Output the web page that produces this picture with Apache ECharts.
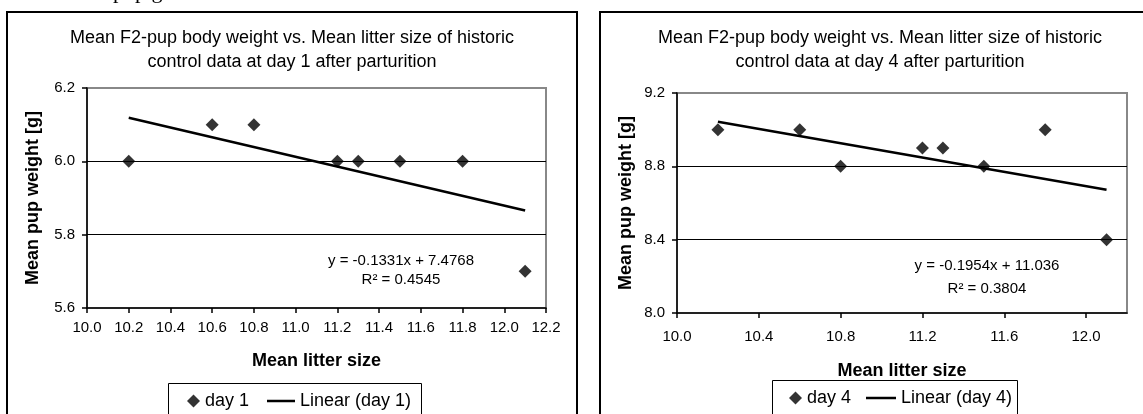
<!DOCTYPE html>
<html>
<head>
<meta charset="utf-8">
<script src="https://cdn.jsdelivr.net/npm/echarts@6/dist/echarts.min.js"></script>
<style>
  body { margin: 0; background: #fff; }
  #main { width: 1143px; height: 414px; }
</style>
</head>
<body>
<div id="main"></div>
<script>
// values
var litterSize = [10.2, 10.6, 10.8, 11.2, 11.3, 11.5, 11.8, 12.1];
var pupWeightDay1 = [6.0, 6.1, 6.1, 6.0, 6.0, 6.0, 6.0, 5.7];
var pupWeightDay4 = [9.0, 9.0, 8.8, 8.9, 8.9, 8.8, 9.0, 8.4];

// trendline end points (x from first to last litter size)
var trendX = [10.2, 12.1];
var trendDay1 = [6.119, 5.866];
var trendDay4 = [9.043, 8.672];

var xTicksDay4 = [10.0, 10.4, 10.8, 11.2, 11.6, 12.0];

var titleDay1 = 'Mean F2-pup body weight vs. Mean litter size of historic\ncontrol data at day 1 after parturition';
var titleDay4 = 'Mean F2-pup body weight vs. Mean litter size of historic\ncontrol data at day 4 after parturition';
var eqDay1 = 'y = -0.1331x + 7.4768\nR² = 0.4545';
var eqDay4 = 'y = -0.1954x + 11.036\nR² = 0.3804';

function pairs(xs, ys) {
    return xs.map(function (x, i) { return [x, ys[i]]; });
}

var FONT = '"Liberation Sans", Arial, sans-serif';
var fmt = function (v) { return v.toFixed(1); };

function xAxisOf(grid, interval, margin, gap, custom) {
    var ax = {
        gridIndex: grid,
        type: 'value',
        min: 10, max: 12.2, interval: interval,
        name: 'Mean litter size',
        nameLocation: 'middle',
        nameGap: gap,
        nameTextStyle: { fontFamily: FONT, fontSize: 18, fontWeight: 'bold', color: '#000' },
        axisLine: { lineStyle: { color: '#000', width: 1.5 } },
        axisTick: { length: 5, lineStyle: { color: '#000', width: 1.5 } },
        axisLabel: { formatter: fmt, fontFamily: FONT, fontSize: 15, color: '#000', margin: margin },
        splitLine: { show: false }
    };
    if (custom) {
        ax.axisTick.customValues = custom;
        ax.axisLabel.customValues = custom;
    }
    return ax;
}

function yAxisOf(grid, min, max, interval, gap) {
    return {
        gridIndex: grid,
        type: 'value',
        min: min, max: max, interval: interval,
        name: 'Mean pup weight [g]',
        nameLocation: 'middle',
        nameRotate: 90,
        nameGap: gap,
        nameTextStyle: { fontFamily: FONT, fontSize: 18, fontWeight: 'bold', color: '#000' },
        axisLine: { show: true, lineStyle: { color: '#000', width: 1.5 } },
        axisTick: { show: true, length: 5, lineStyle: { color: '#000', width: 1.5 } },
        axisLabel: { formatter: fmt, fontFamily: FONT, fontSize: 15, color: '#000', margin: 12 },
        splitLine: { show: true, showMinLine: false, showMaxLine: false, lineStyle: { color: '#000', width: 1 } }
    };
}

function textTitle(text, x, y, size, lh) {
    return {
        text: text, left: x, top: y, padding: 0, textAlign: 'center',
        textStyle: { fontFamily: FONT, fontSize: size, fontWeight: 'normal', color: '#000', lineHeight: lh }
    };
}

// one legend per item so the marker and the line sample can have their own widths
function legendOf(name, x, y, w, h, icon) {
    return {
        data: [{ name: name, icon: icon }], left: x, top: y, padding: 0,
        itemWidth: w, itemHeight: h,
        selectedMode: false,
        textStyle: { fontFamily: FONT, fontSize: 18, color: '#000' }
    };
}

var myChart = echarts.init(document.getElementById('main'));

var option = {
    animation: false,
    title: [
        textTitle(titleDay1, 292, 26, 18, 24),
        textTitle(titleDay4, 880, 26, 18, 24),
        textTitle(eqDay1, 401, 251, 15, 19),
        textTitle(eqDay4, 987, 254, 15, 23)
    ],
    legend: [
        legendOf('day 1', 187, 392, 13, 13, 'diamond'),
        legendOf('Linear (day 1)', 267, 392, 28, 2.5, 'rect'),
        legendOf('day 4', 789, 389, 13, 13, 'diamond'),
        legendOf('Linear (day 4)', 866, 389, 30, 2.5, 'rect')
    ],
    grid: [
        { left: 87, top: 88, width: 459, height: 220, show: true, borderColor: '#888', borderWidth: 2 },
        { left: 677, top: 93, width: 450, height: 220, show: true, borderColor: '#888', borderWidth: 2 }
    ],
    xAxis: [
        xAxisOf(0, 0.2, 12, 44),
        xAxisOf(1, 0.4, 16, 49, xTicksDay4)
    ],
    yAxis: [
        yAxisOf(0, 5.6, 6.2, 0.2, 45),
        yAxisOf(1, 8.0, 9.2, 0.4, 42)
    ],
    graphic: [
        { type: 'rect', shape: { x: 7, y: 12, width: 570, height: 430 },
          style: { fill: 'transparent', stroke: '#000', lineWidth: 2 }, silent: true },
        { type: 'rect', shape: { x: 600, y: 12, width: 580, height: 430 },
          style: { fill: 'transparent', stroke: '#000', lineWidth: 2 }, silent: true },
        { type: 'rect', shape: { x: 168.5, y: 383.5, width: 253, height: 60 },
          style: { fill: 'transparent', stroke: '#000', lineWidth: 1 }, silent: true },
        { type: 'rect', shape: { x: 772.5, y: 380.5, width: 245, height: 60 },
          style: { fill: 'transparent', stroke: '#000', lineWidth: 1 }, silent: true },
        // bottom edge of the document text line above the charts
        { type: 'text', x: 113, y: 3.5, silent: true,
          style: { text: 'pup g', font: '22px "Liberation Serif", serif', fill: '#000', verticalAlign: 'bottom' } }
    ],
    series: [
        {
            type: 'scatter', name: 'day 1', xAxisIndex: 0, yAxisIndex: 0,
            data: pairs(litterSize, pupWeightDay1),
            symbol: 'diamond', symbolSize: 13,
            itemStyle: { color: '#000' }
        },
        {
            type: 'line', name: 'Linear (day 1)', xAxisIndex: 0, yAxisIndex: 0,
            data: pairs(trendX, trendDay1),
            symbol: 'none',
            lineStyle: { color: '#000', width: 2.5 },
            itemStyle: { color: '#000' }
        },
        {
            type: 'scatter', name: 'day 4', xAxisIndex: 1, yAxisIndex: 1,
            data: pairs(litterSize, pupWeightDay4),
            symbol: 'diamond', symbolSize: 13,
            itemStyle: { color: '#000' }
        },
        {
            type: 'line', name: 'Linear (day 4)', xAxisIndex: 1, yAxisIndex: 1,
            data: pairs(trendX, trendDay4),
            symbol: 'none',
            lineStyle: { color: '#000', width: 2.5 },
            itemStyle: { color: '#000' }
        }
    ]
};

myChart.setOption(option);
</script>
</body>
</html>
